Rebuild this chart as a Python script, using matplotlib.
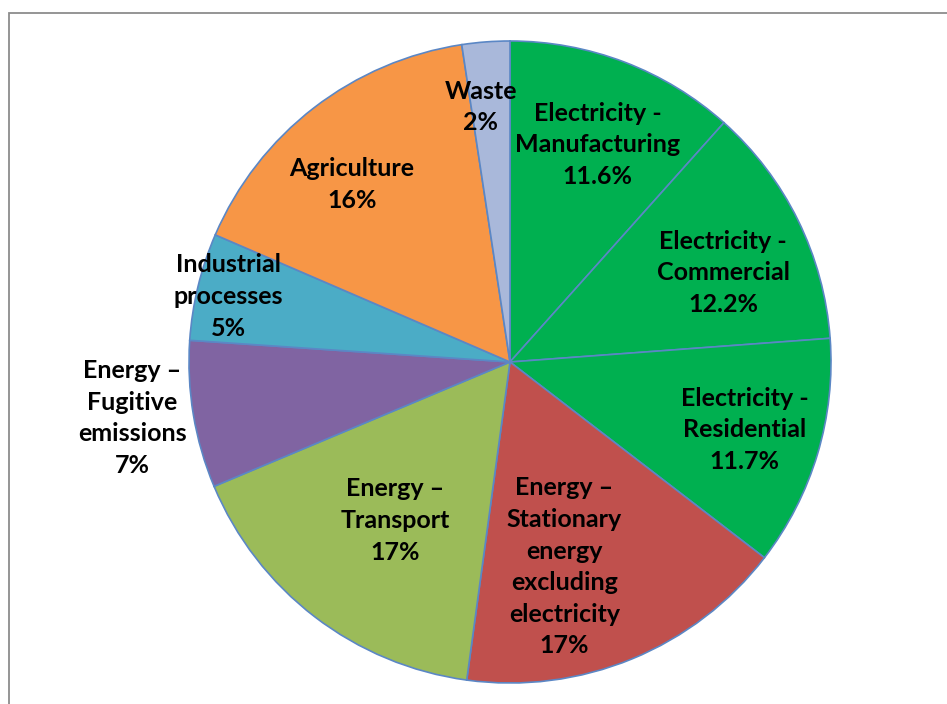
import matplotlib.pyplot as plt
import numpy as np
from matplotlib.patches import Rectangle

categories = [
    "Electricity -\nManufacturing",
    "Electricity -\nCommercial",
    "Electricity -\nResidential",
    "Energy \u2013\nStationary\nenergy\nexcluding\nelectricity",
    "Energy \u2013\nTransport",
    "Energy \u2013\nFugitive\nemissions",
    "Industrial\nprocesses",
    "Agriculture",
    "Waste",
]
shares = [11.6, 12.2, 11.6, 16.7, 16.5, 7.4, 5.4, 16.1, 2.4]
pct_labels = ["11.6%", "12.2%", "11.7%", "17%", "17%", "7%", "5%", "16%", "2%"]

colors = ["#00B050", "#00B050", "#00B050", "#C0504D", "#9BBB59",
          "#8064A2", "#4BACC6", "#F79646", "#A9B8DA"]

# label placement: radial distance and small angle nudge (deg)
label_r = [0.73, 0.72, 0.76, 0.66, 0.61, 1.19, 0.90, 0.74, 0.80]
label_nudge = [-1, -3.5, 0.5, -7.5, 1.5, -1, 0.5, 4, 2.2]

plt.rcParams["font.family"] = ["Lato", "DejaVu Sans"]

fig = plt.figure(figsize=(9.47, 7.04), dpi=100)
fig.patches.append(Rectangle((8.5 / 947, -0.1), 1.2, 1.1 - 12.5 / 704,
                             transform=fig.transFigure, fill=False,
                             edgecolor="#8c8c8c", linewidth=1.3))

ax = fig.add_axes([(510 - 321) / 947, (704 - 362 - 321) / 704, 642 / 947, 642 / 704])
wedges, _ = ax.pie(shares, colors=colors, startangle=90, counterclock=False,
                   wedgeprops=dict(edgecolor="#5B87C5", linewidth=1.2))
ax.set_xlim(-1, 1)
ax.set_ylim(-1, 1)
ax.set_aspect("equal")
ax.axis("off")

for w, name, pct, r, nd in zip(wedges, categories, pct_labels, label_r, label_nudge):
    theta = np.deg2rad((w.theta1 + w.theta2) / 2 + nd)
    ax.text(r * np.cos(theta), r * np.sin(theta), f"{name}\n{pct}",
            ha="center", va="center", fontsize=18, fontweight="bold",
            linespacing=1.45, color="black")

fig.savefig("out.png", dpi=100)
